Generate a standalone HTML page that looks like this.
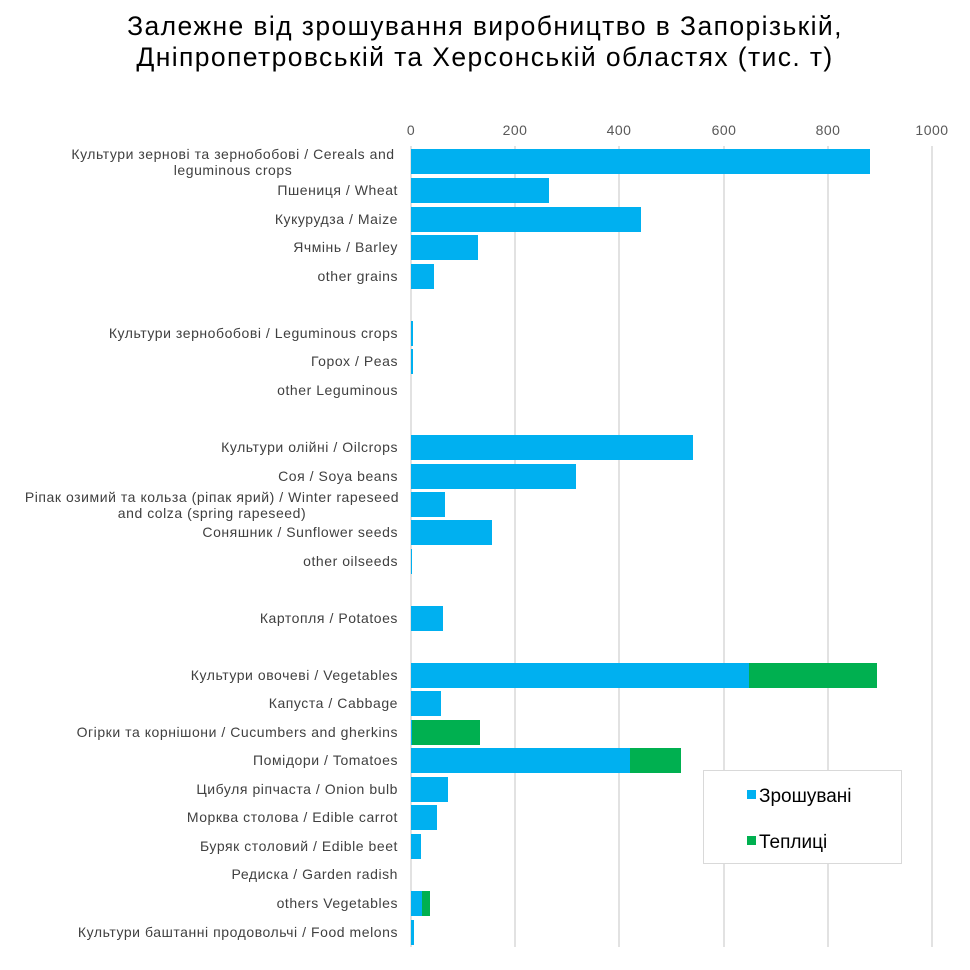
<!DOCTYPE html>
<html><head><meta charset="utf-8"><style>
html,body{margin:0;padding:0;background:#fff;}
svg{display:block;font-family:"Liberation Sans","DejaVu Sans",sans-serif;}
.l{font-size:14px;fill:#404040;letter-spacing:0.55px;}
.t{font-size:14px;fill:#595959;letter-spacing:0.5px;}
</style></head><body>
<svg width="970" height="970" viewBox="0 0 970 970" xmlns="http://www.w3.org/2000/svg">
<text x="485" y="35" text-anchor="middle" font-size="26.5" fill="#000" letter-spacing="1.4">Залежне від зрошування виробництво в Запорізькій,</text>
<text x="485" y="66" text-anchor="middle" font-size="26.5" fill="#000" letter-spacing="1.4">Дніпропетровській та Херсонській областях (тис. т)</text>
<g stroke="#d9d9d9" stroke-width="1.5">
<line x1="411" y1="146" x2="411" y2="947"/><line x1="515" y1="146" x2="515" y2="947"/><line x1="619" y1="146" x2="619" y2="947"/><line x1="724" y1="146" x2="724" y2="947"/><line x1="828" y1="146" x2="828" y2="947"/><line x1="932" y1="146" x2="932" y2="947"/>
</g>
<g class="t" text-anchor="middle">
<text x="411" y="135">0</text><text x="515" y="135">200</text><text x="619" y="135">400</text><text x="724" y="135">600</text><text x="828" y="135">800</text><text x="932" y="135">1000</text>
</g>
<g fill="#00b0f0">
<rect x="411" y="149" width="459" height="25"/>
<rect x="411" y="178" width="138" height="25"/>
<rect x="411" y="207" width="230" height="25"/>
<rect x="411" y="235" width="67" height="25"/>
<rect x="411" y="264" width="23" height="25"/>
<rect x="411" y="321" width="2" height="25"/>
<rect x="411" y="349" width="2" height="25"/>
<rect x="411" y="435" width="282" height="25"/>
<rect x="411" y="464" width="165" height="25"/>
<rect x="411" y="492" width="34" height="25"/>
<rect x="411" y="520" width="81" height="25"/>
<rect x="411" y="549" width="1" height="25"/>
<rect x="411" y="606" width="32" height="25"/>
<rect x="411" y="663" width="338" height="25"/>
<rect x="411" y="691" width="30" height="25"/>
<rect x="411" y="720" width="1" height="25"/>
<rect x="411" y="748" width="219" height="25"/>
<rect x="411" y="777" width="37" height="25"/>
<rect x="411" y="805" width="26" height="25"/>
<rect x="411" y="834" width="10" height="25"/>
<rect x="411" y="891" width="11" height="25"/>
<rect x="411" y="920" width="3" height="25"/>
</g>
<g fill="#00b050">
<rect x="749" y="663" width="128" height="25"/>
<rect x="412" y="720" width="68" height="25"/>
<rect x="630" y="748" width="51" height="25"/>
<rect x="422" y="891" width="8" height="25"/>
</g>
<g class="l" text-anchor="end">
<text x="398" y="195">Пшениця / Wheat</text>
<text x="398" y="224">Кукурудза  / Maize</text>
<text x="398" y="252">Ячмінь / Barley</text>
<text x="398" y="281">other grains</text>
<text x="398" y="338">Культури зернобобові / Leguminous crops</text>
<text x="398" y="366">Горох / Peas</text>
<text x="398" y="395">other Leguminous</text>
<text x="398" y="452">Культури олійні / Oilcrops</text>
<text x="398" y="481">Соя / Soya beans</text>
<text x="398" y="537">Соняшник / Sunflower seeds</text>
<text x="398" y="566">other oilseeds</text>
<text x="398" y="623">Картопля / Potatoes</text>
<text x="398" y="680">Культури овочеві / Vegetables</text>
<text x="398" y="708">Капуста / Cabbage</text>
<text x="398" y="737">Огірки та корнішони / Cucumbers and gherkins</text>
<text x="398" y="765">Помідори / Tomatoes</text>
<text x="398" y="794">Цибуля ріпчаста / Onion bulb</text>
<text x="398" y="822">Морква столова / Edible carrot</text>
<text x="398" y="851">Буряк столовий / Edible beet</text>
<text x="398" y="879">Редиска / Garden radish</text>
<text x="398" y="908">others Vegetables</text>
<text x="398" y="937">Культури баштанні продовольчі / Food melons</text>
</g>
<g class="l" text-anchor="middle">
<text x="233" y="159">Культури зернові та зернобобові / Cereals and</text>
<text x="233" y="175">leguminous crops</text>
<text x="212" y="502">Ріпак озимий та кольза (ріпак ярий) / Winter rapeseed</text>
<text x="212" y="518">and colza (spring rapeseed)</text>
</g>
<rect x="703.5" y="770.5" width="198" height="93" fill="#fff" stroke="#d9d9d9"/>
<rect x="747" y="790" width="9" height="9" fill="#00b0f0"/>
<text x="759" y="802" font-size="19" fill="#000">Зрошувані</text>
<rect x="747" y="836" width="9" height="9" fill="#00b050"/>
<text x="759" y="848" font-size="19" fill="#000">Теплиці</text>
</svg>
</body></html>
